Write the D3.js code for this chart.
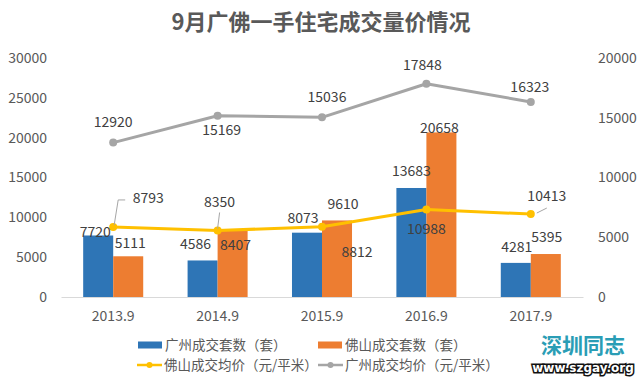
<!DOCTYPE html>
<html><head><meta charset="utf-8">
<script src="https://cdn.jsdelivr.net/npm/d3@7"></script>
<style>
html,body{margin:0;padding:0;background:#fff;}
svg{display:block;font-family:"Noto Sans CJK SC","Noto Sans",sans-serif;}
</style></head>
<body><svg id="c" width="640" height="381"></svg>
<script>
// ---- data ----
const categories = ["2013.9","2014.9","2015.9","2016.9","2017.9"];
const gzUnits = [7720, 4586, 8073, 13683, 4281];      // 广州成交套数（套）
const fsUnits = [5111, 8407, 9610, 20658, 5395];      // 佛山成交套数（套）
const fsPrice = [8793, 8350, 8812, 10988, 10413];     // 佛山成交均价（元/平米）
const gzPrice = [12920, 15169, 15036, 17848, 16323];  // 广州成交均价（元/平米）
const leftTicks = [0, 5000, 10000, 15000, 20000, 25000, 30000];
const rightTicks = [0, 5000, 10000, 15000, 20000];
const title = "9月广佛一手住宅成交量价情况";
const legendNames = ["广州成交套数（套）","佛山成交套数（套）","佛山成交均价（元/平米）","广州成交均价（元/平米）"];

// ---- label offsets (styling) ----
const gzUnitsOff = [[-3,-3],[-7,-16],[-4,-15],[0,-17],[1,-16]];
const fsUnitsOff = [[2,-13],[3,15],[6,-16],[-2,-4],[1,-17]];
const fsPriceOff = [[35,-29],[2,-28],[35,25],[0,20],[16,-18]];
const gzPriceOff = [[0,-21],[4,14],[5,-20],[-4,-19],[-1,-15]];

const C = {blue:"#2E75B6", orange:"#ED7D31", yellow:"#FFC000", gray:"#A5A5A5", text:"#595959", label:"#404040"};

const svg = d3.select("#c");
const x0 = d3.scaleBand().domain(categories).range([61,583]).paddingInner(0.425).paddingOuter(0.2125);
const x1 = d3.scaleBand().domain([0,1]).range([0, x0.bandwidth()]);
const yL = d3.scaleLinear().domain([0,30000]).range([297,58]);
const yR = d3.scaleLinear().domain([0,20000]).range([297,58]);
const cx = c => x0(c) + x0.bandwidth()/2;

// title
svg.append("text").attr("x",321).attr("y",30).attr("text-anchor","middle")
  .attr("font-size",22).attr("font-weight","bold").attr("fill",C.text).text(title);

// axes
const axL = svg.append("g").attr("transform","translate(50,0)")
  .call(d3.axisLeft(yL).tickValues(leftTicks).tickSize(0).tickPadding(3).tickFormat(d3.format("d")));
const axR = svg.append("g").attr("transform","translate(595,0)")
  .call(d3.axisRight(yR).tickValues(rightTicks).tickSize(0).tickPadding(3).tickFormat(d3.format("d")));
const axB = svg.append("g").attr("transform","translate(0,297)")
  .call(d3.axisBottom(x0).tickSize(0).tickPadding(14));
[axL,axR].forEach(a=>a.select(".domain").remove());
axB.select(".domain").attr("stroke","#d9d9d9");
[axL,axR,axB].forEach(a=>a.selectAll("text").attr("font-size",14).attr("fill",C.text)
  .attr("font-family",'"Noto Sans CJK SC","Noto Sans",sans-serif'));

// bars
const barSeries = [{vals:gzUnits,color:C.blue,off:gzUnitsOff},{vals:fsUnits,color:C.orange,off:fsUnitsOff}];
barSeries.forEach((s,si)=>{
  svg.append("g").selectAll("rect").data(categories).join("rect")
    .attr("x",c=>x0(c)+x1(si)).attr("width",x1.bandwidth())
    .attr("y",(c,i)=>yL(s.vals[i])).attr("height",(c,i)=>yL(0)-yL(s.vals[i]))
    .attr("fill",s.color);
});

// lines
const lineSeries = [
  {vals:fsPrice,color:C.yellow,y:yL,off:fsPriceOff},
  {vals:gzPrice,color:C.gray,y:yR,off:gzPriceOff}];
lineSeries.forEach(s=>{
  const line = d3.line().x((d,i)=>cx(categories[i])).y(d=>s.y(d));
  svg.append("path").datum(s.vals).attr("d",line).attr("fill","none")
    .attr("stroke",s.color).attr("stroke-width",3).attr("stroke-linejoin","round");
  svg.append("g").selectAll("circle").data(s.vals).join("circle")
    .attr("cx",(d,i)=>cx(categories[i])).attr("cy",d=>s.y(d)).attr("r",4).attr("fill",s.color);
});

// leader lines for some yellow labels
const leaders = [[0,[[1,-2],[5,-27],[12,-27]]],[1,[[0,-2],[2,-18]]],[4,[[6,-1],[16,-6]]]];
leaders.forEach(([i,pts])=>{
  const px = cx(categories[i]), py = yL(fsPrice[i]);
  svg.append("path").attr("d",d3.line()(pts.map(p=>[px+p[0],py+p[1]])))
    .attr("fill","none").attr("stroke","#a6a6a6").attr("stroke-width",1);
});

// data labels
const fmt = d3.format("d");
barSeries.forEach((s,si)=>{
  svg.append("g").selectAll("text").data(s.vals).join("text")
    .attr("x",(d,i)=>x0(categories[i])+x1(si)+x1.bandwidth()/2+s.off[i][0])
    .attr("y",(d,i)=>yL(d)+s.off[i][1]).attr("dy","0.35em")
    .attr("text-anchor","middle").attr("font-size",14).attr("fill",C.label).text(fmt);
});
lineSeries.forEach(s=>{
  svg.append("g").selectAll("text").data(s.vals).join("text")
    .attr("x",(d,i)=>cx(categories[i])+s.off[i][0])
    .attr("y",(d,i)=>s.y(d)+s.off[i][1]).attr("dy","0.35em")
    .attr("text-anchor","middle").attr("font-size",14).attr("fill",C.label).text(fmt);
});

// legend
const lg = svg.append("g").attr("font-size",13.5).attr("fill",C.text);
const legendItems = [
  {x:138,y:345,type:"rect",color:C.blue},
  {x:318,y:345,type:"rect",color:C.orange},
  {x:137,y:365,type:"line",color:C.yellow},
  {x:318,y:365,type:"line",color:C.gray}];
legendItems.forEach((it,k)=>{
  if(it.type==="rect"){
    lg.append("rect").attr("x",it.x).attr("y",it.y-3.5).attr("width",24).attr("height",7).attr("fill",it.color);
  } else {
    lg.append("line").attr("x1",it.x).attr("x2",it.x+25).attr("y1",it.y).attr("y2",it.y)
      .attr("stroke",it.color).attr("stroke-width",2.5);
    lg.append("circle").attr("cx",it.x+12.5).attr("cy",it.y).attr("r",3).attr("fill",it.color);
  }
  lg.append("text").attr("x",it.x+27).attr("y",it.y).attr("dy","0.35em").text(legendNames[k]);
});

// logo watermark
svg.append("text").attr("x",583).attr("y",353).attr("text-anchor","middle")
  .attr("font-size",21).attr("font-weight","bold").attr("fill","#2A9DB5").text("深圳同志");
svg.append("text").attr("x",583).attr("y",372).attr("text-anchor","middle")
  .attr("font-size",12).attr("font-weight","bold").attr("fill","#fff")
  .attr("stroke","#111").attr("stroke-width",3).attr("paint-order","stroke")
  .attr("font-family","DejaVu Sans").text("www.szgay.org");
</script></body></html>
